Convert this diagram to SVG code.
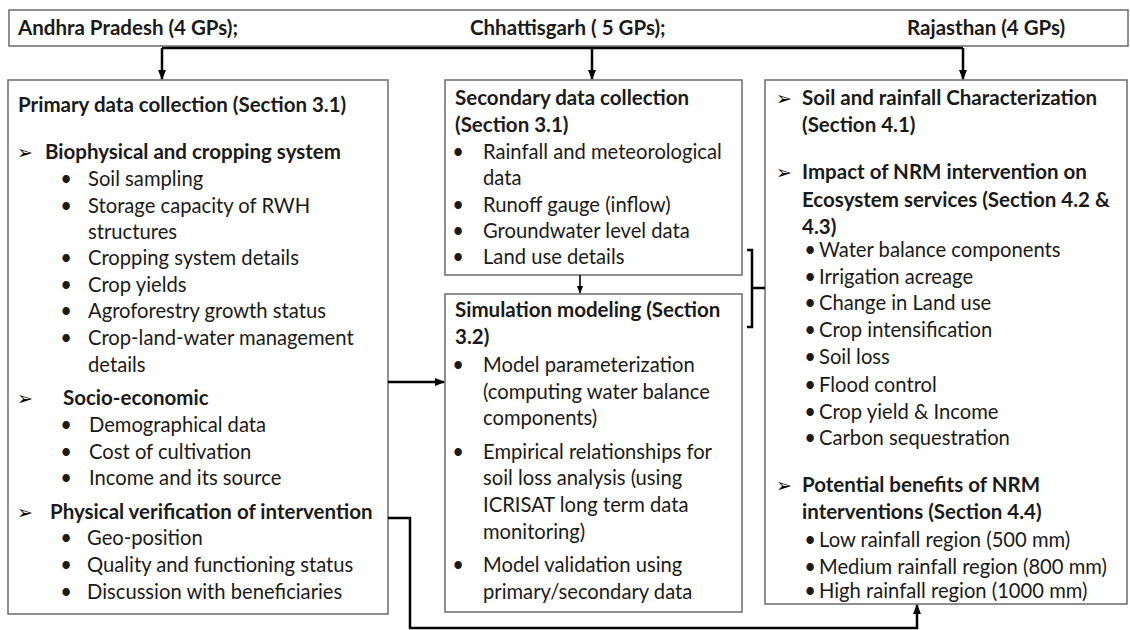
<svg xmlns="http://www.w3.org/2000/svg" width="1130" height="630" viewBox="0 0 1130 630">
<defs>
<style>
.box{fill:#fff;stroke:#6b6b6b;stroke-width:1.5}
text{font-family:Lato,"Open Sans","Liberation Sans",sans-serif;font-size:20.2px;fill:#1a1a1a}
.b{font-weight:bold;font-size:20.5px}
.a{font-family:"DejaVu Sans",sans-serif;font-size:19px;fill:#000;font-weight:bold}
.u{text-anchor:middle}
.c{fill:none;stroke:#000;stroke-width:2.5}
.t{fill:none;stroke:#000;stroke-width:1.6}
</style>
<marker id="ah" markerUnits="userSpaceOnUse" markerWidth="10" markerHeight="10" viewBox="0 0 10 10" refX="9" refY="5" orient="auto"><path d="M0,1 L10,5 L0,9 Z" fill="#000"/></marker>
<marker id="ahs" markerUnits="userSpaceOnUse" markerWidth="8" markerHeight="8" viewBox="0 0 10 10" refX="9" refY="5" orient="auto"><path d="M0,1 L10,5 L0,9 Z" fill="#000"/></marker>
</defs>
<rect width="1130" height="630" fill="#fff"/>

<g id="states">
<rect class="box" x="9" y="10" width="1119" height="36"/>
<text class="b" x="18" y="35">Andhra Pradesh (4 GPs);</text>
<text class="b" x="470" y="35">Chhattisgarh ( 5 GPs);</text>
<text class="b" x="907" y="35">Rajasthan (4 GPs)</text>
</g>

<g id="primary">
<rect class="box" x="8" y="80" width="380" height="534"/>
<text class="b" x="18" y="112">Primary data collection (Section 3.1)</text>
<text class="a" x="17" y="159">➢</text><text class="b" x="45" y="159">Biophysical and cropping system</text>
<text class="u" x="66" y="186">•</text><text x="88" y="186">Soil sampling</text>
<text class="u" x="66" y="213">•</text><text x="88" y="213">Storage capacity of RWH</text>
<text x="88" y="239">structures</text>
<text class="u" x="66" y="265">•</text><text x="88" y="265">Cropping system details</text>
<text class="u" x="66" y="292">•</text><text x="88" y="292">Crop yields</text>
<text class="u" x="66" y="318">•</text><text x="88" y="318">Agroforestry growth status</text>
<text class="u" x="66" y="345">•</text><text x="88" y="345">Crop-land-water management</text>
<text x="88" y="372">details</text>
<text class="a" x="17" y="405">➢</text><text class="b" x="63" y="405">Socio-economic</text>
<text class="u" x="66" y="432">•</text><text x="89" y="432">Demographical data</text>
<text class="u" x="66" y="459">•</text><text x="89" y="459">Cost of cultivation</text>
<text class="u" x="66" y="485">•</text><text x="89" y="485">Income and its source</text>
<text class="a" x="17" y="519">➢</text><text class="b" x="50" y="519">Physical verification of intervention</text>
<text class="u" x="66" y="545">•</text><text x="87" y="545">Geo-position</text>
<text class="u" x="66" y="572">•</text><text x="87" y="572">Quality and functioning status</text>
<text class="u" x="66" y="599">•</text><text x="87" y="599">Discussion with beneficiaries</text>
</g>

<g id="secondary">
<rect class="box" x="445" y="80" width="297" height="195"/>
<text class="b" x="455" y="105">Secondary data collection</text>
<text class="b" x="455" y="132">(Section 3.1)</text>
<text class="u" x="458" y="159">•</text><text x="483" y="159">Rainfall and meteorological</text>
<text x="483" y="185">data</text>
<text class="u" x="458" y="212">•</text><text x="483" y="212">Runoff gauge (inflow)</text>
<text class="u" x="458" y="238">•</text><text x="483" y="238">Groundwater level data</text>
<text class="u" x="458" y="264">•</text><text x="483" y="264">Land use details</text>
</g>

<g id="simulation">
<rect class="box" x="445" y="294" width="297" height="318"/>
<text class="b" x="455" y="317">Simulation modeling (Section</text>
<text class="b" x="455" y="344">3.2)</text>
<text class="u" x="458" y="372">•</text><text x="483" y="372">Model parameterization</text>
<text x="483" y="399">(computing water balance</text>
<text x="483" y="425">components)</text>
<text class="u" x="458" y="459">•</text><text x="483" y="459">Empirical relationships for</text>
<text x="483" y="485">soil loss analysis (using</text>
<text x="483" y="512">ICRISAT long term data</text>
<text x="483" y="539">monitoring)</text>
<text class="u" x="458" y="572">•</text><text x="483" y="572">Model validation using</text>
<text x="483" y="599">primary/secondary data</text>
</g>

<g id="results">
<rect class="box" x="765" y="80" width="362" height="524"/>
<text class="a" x="776" y="105">➢</text><text class="b" x="802" y="105">Soil and rainfall Characterization</text>
<text class="b" x="802" y="132">(Section 4.1)</text>
<text class="a" x="776" y="179">➢</text><text class="b" x="802" y="179">Impact of NRM intervention on</text>
<text class="b" x="802" y="207">Ecosystem services (Section 4.2 &amp;</text>
<text class="b" x="802" y="234">4.3)</text>
<text class="u" x="810" y="257">•</text><text x="819" y="257">Water balance components</text>
<text class="u" x="810" y="284">•</text><text x="819" y="284">Irrigation acreage</text>
<text class="u" x="810" y="310">•</text><text x="819" y="310">Change in Land use</text>
<text class="u" x="810" y="337">•</text><text x="819" y="337">Crop intensification</text>
<text class="u" x="810" y="364">•</text><text x="819" y="364">Soil loss</text>
<text class="u" x="810" y="392">•</text><text x="819" y="392">Flood control</text>
<text class="u" x="810" y="419">•</text><text x="819" y="419">Crop yield &amp; Income</text>
<text class="u" x="810" y="445">•</text><text x="819" y="445">Carbon sequestration</text>
<text class="a" x="776" y="492">➢</text><text class="b" x="802" y="492">Potential benefits of NRM</text>
<text class="b" x="802" y="519">interventions (Section 4.4)</text>
<text class="u" x="810" y="547">•</text><text x="819" y="547">Low rainfall region (500 mm)</text>
<text class="u" x="810" y="574">•</text><text x="819" y="574">Medium rainfall region (800 mm)</text>
<text class="u" x="810" y="598">•</text><text x="819" y="598">High rainfall region (1000 mm)</text>
</g>

<g id="connectors">
<path class="c" d="M162,48 H963"/>
<path class="c" d="M162,48 V79" marker-end="url(#ah)"/>
<path class="c" d="M592,48 V79" marker-end="url(#ah)"/>
<path class="c" d="M963,48 V79" marker-end="url(#ah)"/>
<path class="t" d="M580,275 V293" marker-end="url(#ahs)"/>
<path class="c" d="M388,382 H444" marker-end="url(#ah)"/>
<path class="c" d="M747,250 H752 V327 H747 M752,288 H765"/>
<path class="c" d="M388,518 H410 V628 H917 V605" marker-end="url(#ah)"/>
</g>
</svg>
